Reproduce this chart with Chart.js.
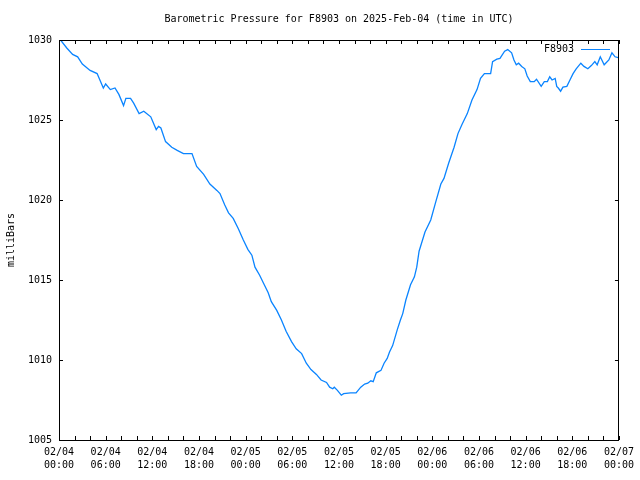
<!DOCTYPE html>
<html>
<head>
<meta charset="utf-8">
<script src="https://cdn.jsdelivr.net/npm/chart.js@4/dist/chart.umd.min.js"></script>
<style>
  html, body { margin: 0; padding: 0; background: #fff; }
  #c { display: block; }
</style>
</head>
<body>
<canvas id="c" width="640" height="480"></canvas>
<script>
// ---- Data (hours since 2025-02-04 00:00 UTC, pressure in milliBars) ----
const hours = [
  0.2, 1.0, 1.75, 2.4, 3.0, 4.0, 4.9, 5.7, 6.0, 6.6, 7.2, 7.7, 8.3, 8.6, 9.2, 9.6,
  10.3, 10.9, 11.8, 12.5, 12.8, 13.1, 13.7, 14.5, 15.2, 16.0, 17.1, 17.7, 18.6, 19.4,
  20.3, 20.7, 21.3, 21.8, 22.4, 23.06, 23.7, 24.3, 24.8, 25.2, 25.8, 26.3, 26.9, 27.3,
  28.0, 28.6, 29.2, 29.9, 30.5, 31.2, 31.8, 32.4, 33.1, 33.7, 34.4, 34.8, 35.2, 35.4,
  35.8, 36.3, 36.6, 37.5, 38.2, 38.8, 39.3, 39.7, 40.1, 40.4, 40.8, 41.4, 41.8, 42.2,
  42.5, 42.9, 43.5, 43.9, 44.2, 44.6, 45.2, 45.7, 46.0, 46.3, 47.06, 47.8, 48.4, 49.1,
  49.5, 50.1, 50.8, 51.3, 51.8, 52.5, 53.1, 53.75, 54.2, 54.7, 55.5, 55.75, 56.3, 56.7,
  57.3, 57.7, 58.2, 58.5, 58.8, 59.1, 59.5, 59.9, 60.2, 60.6, 61.1, 61.4, 62.0, 62.4,
  62.8, 63.1, 63.4, 63.8, 64.0, 64.2, 64.5, 64.8, 65.3, 65.7, 66.1, 66.5, 67.1, 67.5,
  68.0, 68.45, 68.9, 69.2, 69.6, 70.1, 70.7, 71.1, 71.5, 71.9
];
const pressure = [
  1030.0, 1029.5, 1029.1, 1028.95, 1028.5, 1028.1, 1027.9, 1027.0, 1027.25, 1026.9, 1027.0, 1026.6, 1025.9, 1026.35, 1026.35, 1026.05,
  1025.4, 1025.55, 1025.2, 1024.4, 1024.6, 1024.5, 1023.65, 1023.3, 1023.1, 1022.9, 1022.9, 1022.1, 1021.6, 1021.0,
  1020.6, 1020.4, 1019.7, 1019.2, 1018.85, 1018.2, 1017.5, 1016.9, 1016.55, 1015.8, 1015.3, 1014.8, 1014.2, 1013.65,
  1013.1, 1012.5, 1011.8, 1011.15, 1010.7, 1010.4, 1009.8, 1009.4, 1009.1, 1008.75, 1008.6, 1008.3, 1008.2, 1008.3,
  1008.1, 1007.8, 1007.9, 1007.95, 1007.95, 1008.3, 1008.5, 1008.55, 1008.7, 1008.65, 1009.2, 1009.35, 1009.8, 1010.1,
  1010.5, 1010.9, 1011.9, 1012.5, 1012.9, 1013.75, 1014.7, 1015.2, 1015.8, 1016.8, 1018.0, 1018.75, 1019.8, 1021.0,
  1021.35, 1022.3, 1023.3, 1024.15, 1024.7, 1025.4, 1026.25, 1026.9, 1027.6, 1027.9, 1027.9, 1028.65, 1028.8, 1028.85,
  1029.3, 1029.4, 1029.2, 1028.75, 1028.45, 1028.55, 1028.35, 1028.2, 1027.75, 1027.4, 1027.4, 1027.55, 1027.1, 1027.4,
  1027.4, 1027.7, 1027.5, 1027.6, 1027.1, 1027.0, 1026.8, 1027.05, 1027.1, 1027.5, 1027.9, 1028.2, 1028.55, 1028.35,
  1028.2, 1028.4, 1028.65, 1028.45, 1028.95, 1028.45, 1028.75, 1029.2, 1028.95, 1028.9
];
const tickDates = ['02/04','02/04','02/04','02/04','02/05','02/05','02/05','02/05','02/06','02/06','02/06','02/06','02/07'];
const tickTimes = ['00:00','06:00','12:00','18:00','00:00','06:00','12:00','18:00','00:00','06:00','12:00','18:00','00:00'];
const yTickValues = [1005, 1010, 1015, 1020, 1025, 1030];
const seriesName = 'F8903';
const chartTitle = 'Barometric Pressure for F8903 on 2025-Feb-04 (time in UTC)';
const yTitle = 'milliBars';

const FONT = 'DejaVu Sans Mono';
const LINE_COLOR = 'rgb(10,132,255)';

const framePlugin = {
  id: 'gnuplotFrame',
  afterDatasetsDraw(chart) {
    const ctx = chart.ctx;
    const a = chart.chartArea;
    const xs = chart.scales.x, ys = chart.scales.y;
    ctx.save();
    ctx.strokeStyle = '#000';
    ctx.lineWidth = 1;
    ctx.beginPath();
    ctx.rect(Math.round(a.left) + 0.5, Math.round(a.top) + 0.5,
             Math.round(a.right - a.left) - 1, Math.round(a.bottom - a.top));
    // x ticks every 2 hours, inward on bottom and top
    for (let h = 0; h <= 72; h += 2) {
      const px = Math.round(xs.getPixelForValue(h)) + 0.5;
      ctx.moveTo(px, a.bottom); ctx.lineTo(px, a.bottom - 4);
      ctx.moveTo(px, a.top); ctx.lineTo(px, a.top + 4);
    }
    // y ticks, inward on left and right
    yTickValues.forEach(v => {
      const py = Math.round(ys.getPixelForValue(v)) + 0.5;
      ctx.moveTo(a.left, py); ctx.lineTo(a.left + 4, py);
      ctx.moveTo(a.right, py); ctx.lineTo(a.right - 4, py);
    });
    ctx.stroke();

    // texts
    ctx.fillStyle = '#000';
    ctx.font = '10px "' + FONT + '"';
    ctx.textAlign = 'center';
    ctx.textBaseline = 'middle';
    ctx.fillText(chartTitle, (a.left + a.right) / 2, 19);

    ctx.save();
    ctx.translate(11, (a.top + a.bottom) / 2);
    ctx.rotate(-Math.PI / 2);
    ctx.fillText(yTitle, 0, 0);
    ctx.restore();

    // legend
    ctx.textAlign = 'right';
    ctx.fillText(seriesName, 574, 49);
    ctx.strokeStyle = LINE_COLOR;
    ctx.beginPath();
    ctx.moveTo(581, 49.5); ctx.lineTo(610, 49.5);
    ctx.stroke();
    ctx.restore();
  }
};

new Chart(document.getElementById('c'), {
  type: 'line',
  data: {
    datasets: [{
      label: seriesName,
      data: hours.map((h, i) => ({ x: h, y: pressure[i] })),
      borderColor: LINE_COLOR,
      borderWidth: 1.3,
      pointRadius: 0,
      tension: 0,
      fill: false
    }]
  },
  options: {
    responsive: false,
    animation: false,
    layout: { padding: { top: 40, right: 19, left: 0, bottom: 0 } },
    plugins: {
      legend: { display: false },
      title: { display: false },
      tooltip: { enabled: false }
    },
    scales: {
      x: {
        type: 'linear',
        min: 0, max: 72,
        grid: { display: false, drawTicks: false },
        border: { display: false },
        ticks: {
          stepSize: 6,
          autoSkip: false,
          maxRotation: 0,
          padding: 6,
          color: '#000',
          font: { family: FONT, size: 10, lineHeight: 1.3 },
          callback: (v) => {
            const i = Math.round(v / 6);
            return [tickDates[i], tickTimes[i]];
          }
        },
        afterFit: (s) => { s.height = 40; }
      },
      y: {
        min: 1005, max: 1030,
        grid: { display: false, drawTicks: false },
        border: { display: false },
        ticks: {
          stepSize: 5,
          padding: 7,
          color: '#000',
          font: { family: FONT, size: 10 },
          callback: (v) => String(v)
        },
        afterFit: (s) => { s.width = 59; }
      }
    }
  },
  plugins: [framePlugin]
});
</script>
</body>
</html>
